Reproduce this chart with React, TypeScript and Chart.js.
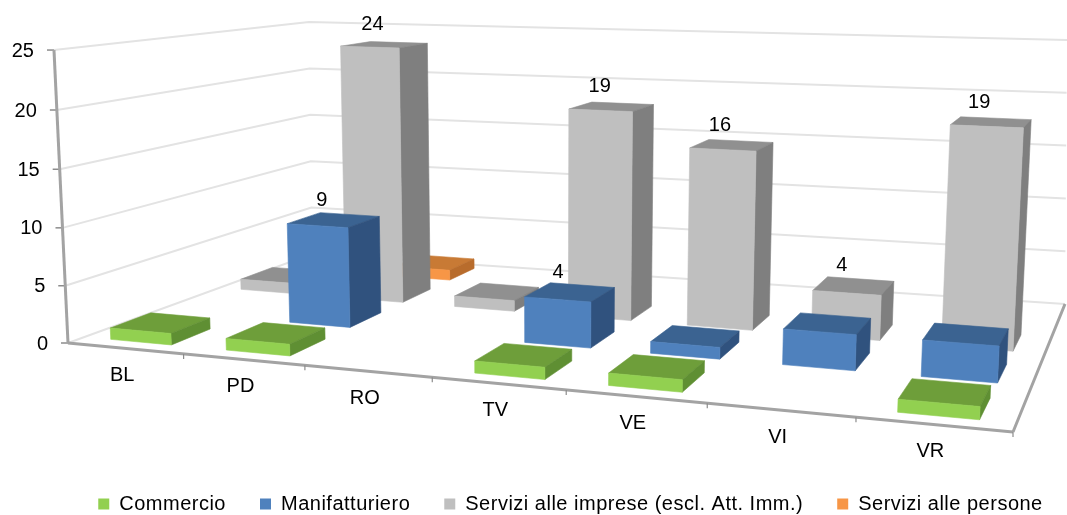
import React, { useEffect, useRef } from "react";
import { Chart, registerables } from "chart.js";

Chart.register(...registerables);

const provinces = ["BL", "PD", "RO", "TV", "VE", "VI", "VR"];
const commercio = [1, 1, null, 1, 1, null, 1];
const manifatturiero = [null, 9, null, 4, 1, 3, 3];
const serviziImprese = [1, 24, 1, 19, 16, 4, 19];
const serviziPersone = [null, 1, null, null, null, null, null];
const labelledManifatturiero = [9, 4];
const labelledImprese = [24, 19, 16, 4];
const seriesNames = ["Commercio", "Manifatturiero", "Servizi alle imprese (escl. Att. Imm.)", "Servizi alle persone"];
const yTicks = [0, 5, 10, 15, 20, 25];

const FONT = '"Liberation Sans", Arial, sans-serif';
const faces = [
  { front: "#92D050", top: "#6E9E3A", side: "#5F8F33" },
  { front: "#4F81BD", top: "#3B6391", side: "#30527E" },
  { front: "#BFBFBF", top: "#909090", side: "#7F7F7F" },
  { front: "#F79646", top: "#C87A35", side: "#B86C2C" },
];
const labelled: (number[] | null)[] = [null, labelledManifatturiero, labelledImprese, null];

// Perspective model: floor corners -> homography, plus vertical vanishing point
const P00 = [68, 343];
const P10 = [1013, 432];
const P11 = [1065, 306];
const P01 = [312, 252];
// Visible frame of the walls
const WALL_BOTTOM_CORNER = [312, 254];
const WALL_TOP_CORNER = [309, 22];
const WALL_BOTTOM_RIGHT = [1065, 304];
const WALL_TOP_RIGHT = [1067, 40];
const VP = [547, 10356];
const R = -0.001137;
const dx1 = P10[0] - P11[0], dy1 = P10[1] - P11[1];
const dx2 = P01[0] - P11[0], dy2 = P01[1] - P11[1];
const sx = P00[0] - P10[0] + P11[0] - P01[0], sy = P00[1] - P10[1] + P11[1] - P01[1];
const den = dx1 * dy2 - dx2 * dy1;
const G = (sx * dy2 - dx2 * sy) / den;
const H = (dx1 * sy - sx * dy1) / den;
const Ax = P10[0] - P00[0] + G * P10[0], Ay = P10[1] - P00[1] + G * P10[1];
const Bx = P01[0] - P00[0] + H * P01[0], By = P01[1] - P00[1] + H * P01[1];

function project(u: number, d: number, z: number): [number, number] {
  const w = G * u + H * d + 1 + R * z;
  const x = Ax * u + Bx * d + P00[0] + R * z * VP[0];
  const y = Ay * u + By * d + P00[1] + R * z * VP[1];
  return [x / w, y / w];
}

const lerp = (a: number[], b: number[], f: number) => [a[0] + (b[0] - a[0]) * f, a[1] + (b[1] - a[1]) * f];

function poly(ctx: CanvasRenderingContext2D, pts: [number, number][], fill: string) {
  ctx.beginPath();
  pts.forEach((p, i) => (i ? ctx.lineTo(p[0], p[1]) : ctx.moveTo(p[0], p[1])));
  ctx.closePath();
  ctx.fillStyle = fill;
  ctx.fill();
  ctx.strokeStyle = fill;
  ctx.lineWidth = 0.6;
  ctx.stroke();
}

function line(ctx: CanvasRenderingContext2D, a: number[], b: number[], color: string, width: number) {
  ctx.beginPath();
  ctx.moveTo(a[0], a[1]);
  ctx.lineTo(b[0], b[1]);
  ctx.strokeStyle = color;
  ctx.lineWidth = width;
  ctx.stroke();
}

const LEGEND_SPACING = "0.5px";
const spacing = (chart: any, v: string) => {
  (chart.ctx as any).letterSpacing = v;
};

const frame3d = {
  id: "frame3d",
  beforeLayout: (chart: any) => spacing(chart, LEGEND_SPACING),
  beforeDraw: (chart: any) => spacing(chart, LEGEND_SPACING),
  afterLayout(chart: any) {
    const lg = chart.legend;
    lg.top += 9;
    lg.bottom += 9;
    lg.left += 37;
    lg.right += 37;
  },
  beforeDatasetDraw: () => false,
  beforeDatasetsDraw(chart: any) {
    const { ctx, scales } = chart;
    const y = scales.y;
    ctx.save();
    spacing(chart, "0px");
    ctx.lineCap = "butt";
    y.ticks.forEach((t: any) => {
      const z = t.value;
      const f = z / y.max;
      const left = project(0, 0, z);
      const corner = lerp(WALL_BOTTOM_CORNER, WALL_TOP_CORNER, f);
      const end = lerp(WALL_BOTTOM_RIGHT, WALL_TOP_RIGHT, f);
      ctx.beginPath();
      ctx.moveTo(left[0], left[1]);
      ctx.lineTo(corner[0], corner[1]);
      ctx.lineTo(end[0], end[1]);
      ctx.strokeStyle = "#E3E3E3";
      ctx.lineWidth = 2;
      ctx.stroke();
      line(ctx, [left[0] - 7, left[1]], left, "#8C8C8C", 1.5);
      ctx.fillStyle = "#000";
      ctx.font = `20px ${FONT}`;
      ctx.textAlign = "right";
      ctx.textBaseline = "middle";
      ctx.fillText(String(z), left[0] - 20, left[1] + 1);
    });
    // axes
    const axisColor = "#A3A3A3";
    line(ctx, project(0, 0, 0), project(0, 0, y.max), axisColor, 3);
    line(ctx, project(0, 0, 0), project(1, 0, 0), axisColor, 3);
    line(ctx, project(1, 0, 0), WALL_BOTTOM_RIGHT, axisColor, 3);
    provinces.forEach((_, i) => {
      const p = project((i + 1) / provinces.length, 0, 0);
      line(ctx, p, [p[0], p[1] + 5], "#8C8C8C", 1.2);
    });
    const x = scales.x;
    x.getLabels().forEach((lab: string, i: number) => {
      const u = (x.getPixelForValue(i) - x.left) / x.width;
      const p = project(u, 0, 0);
      ctx.fillStyle = "#000";
      ctx.font = `20px ${FONT}`;
      ctx.textAlign = "center";
      ctx.textBaseline = "middle";
      ctx.fillText(lab, p[0] - 3, p[1] + 27);
    });
    ctx.restore();
  },
  afterDatasetsDraw(chart: any) {
    const { ctx, scales } = chart;
    const x = scales.x, y = scales.y;
    const n = chart.data.datasets.length;
    ctx.save();
    spacing(chart, "0px");
    const labels: { t: string; p: [number, number] }[] = [];
    for (let s = n - 1; s >= 0; s--) {
      const meta = chart.getDatasetMeta(s);
      const face = faces[s];
      const raw = chart.data.datasets[s].data;
      meta.data.forEach((el: any, i: number) => {
        if (raw[i] == null) return;
        const z = y.getValueForPixel(el.y);
        const cu = (el.x - x.left) / x.width;
        const hw = el.width / x.width / 2;
        const dc = (s + 0.5) / n;
        const hd = 0.285 / n;
        const u0 = cu - hw, u1 = cu + hw, d0 = dc - hd, d1 = dc + hd;
        poly(ctx, [project(u0, d0, z), project(u1, d0, z), project(u1, d1, z), project(u0, d1, z)], face.top);
        poly(ctx, [project(u1, d0, 0), project(u1, d1, 0), project(u1, d1, z), project(u1, d0, z)], face.side);
        poly(ctx, [project(u0, d0, 0), project(u1, d0, 0), project(u1, d0, z), project(u0, d0, z)], face.front);
        const shown = labelled[s];
        if (shown && shown.includes(raw[i])) labels.push({ t: String(raw[i]), p: project(cu, dc, z) });
      });
    }
    ctx.fillStyle = "#000";
    ctx.font = `20px ${FONT}`;
    ctx.textAlign = "center";
    ctx.textBaseline = "middle";
    labels.forEach((l) => ctx.fillText(l.t, l.p[0] - 12, l.p[1] - 20));
    ctx.restore();
    spacing(chart, LEGEND_SPACING);
  },
};

export default function App() {
  const ref = useRef<HTMLCanvasElement>(null);
  useEffect(() => {
    const chart = new Chart(ref.current as HTMLCanvasElement, {
      type: "bar",
      data: {
        labels: provinces,
        datasets: [commercio, manifatturiero, serviziImprese, serviziPersone].map((data, i) => ({
          label: seriesNames[i],
          data,
          backgroundColor: faces[i].front,
          barPercentage: 0.53,
          categoryPercentage: 1,
          grouped: false,
        })) as any,
      },
      options: {
        responsive: false,
        animation: false,
        layout: { padding: { top: 50, right: 0, left: 0, bottom: 0 } },
        scales: {
          x: {
            display: true,
            ticks: { display: false },
            grid: { display: false },
            border: { display: false },
            afterFit: (s: any) => { s.height = 108; },
          },
          y: {
            min: 0,
            max: 25,
            afterBuildTicks: (s: any) => { s.ticks = yTicks.map((value) => ({ value })); },
            ticks: { display: false },
            grid: { display: false },
            border: { display: false },
            afterFit: (s: any) => { s.width = 68; },
          },
        },
        plugins: {
          tooltip: { enabled: false },
          legend: {
            position: "bottom",
            labels: {
              boxWidth: 11,
              boxHeight: 11,
              padding: 34,
              color: "#000",
              font: { size: 20, family: FONT },
            },
          },
        },
      } as any,
      plugins: [frame3d as any],
    });
    return () => chart.destroy();
  }, []);
  return (
    <div style={{ position: "fixed", left: 0, top: 0, width: 1067, height: 515, background: "#fff" }}>
      <canvas ref={ref} width={1067} height={515} style={{ display: "block" }} />
    </div>
  );
}
